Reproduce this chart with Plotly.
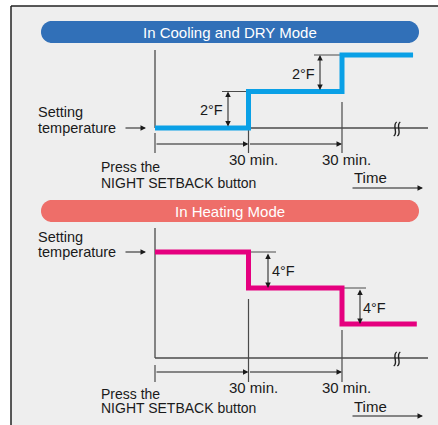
import math
import plotly.graph_objects as go

# ---------------- data ----------------
step_minutes = [0, 30, 60]            # times at which the setpoint changes
cooling_offsets_F = [0, 2, 4]         # cooling / dry: +2°F every 30 min
heating_offsets_F = [0, -4, -8]       # heating: -4°F every 30 min
cooling_end_min = 82.8                # where the drawn line stops
heating_end_min = 84.0
step_labels = ["30 min.", "30 min."]
cooling_step_labels = ["2°F", "2°F"]
heating_step_labels = ["4°F", "4°F"]

# ---------------- layout helpers ----------------
W, H = 438, 425
KX = (342 - 155) / 60.0      # px per minute
KC = (128 - 55) / 4.0        # px per °F (cooling)
KH = (324 - 252) / 8.0       # px per °F (heating)


def tx(px):  # pixel x -> minutes
    return (px - 155) / KX


def cy(py):  # pixel y -> cooling °F
    return (128 - py) / KC


def hy(py):  # pixel y -> heating °F
    return (252 - py) / KH


def PX(x):
    return x / W


def PY(y):
    return 1 - y / H


FONT = "Liberation Sans, Arial, Helvetica, sans-serif"
INK = "#1a1a1a"
AX = "#4a4a4a"
BLUE_LINE = "#0aa0e6"
PINK_LINE = "#e5007f"
PILL_BLUE = "#3170b8"
PILL_RED = "#ee6e69"
PANEL = "#eeeeee"

fig = go.Figure()

fig.add_trace(go.Scatter(
    x=step_minutes + [cooling_end_min],
    y=cooling_offsets_F + [cooling_offsets_F[-1]],
    mode="lines", line=dict(color=BLUE_LINE, width=5, shape="hv"),
    xaxis="x", yaxis="y", hoverinfo="skip", showlegend=False))

fig.add_trace(go.Scatter(
    x=step_minutes + [heating_end_min],
    y=heating_offsets_F + [heating_offsets_F[-1]],
    mode="lines", line=dict(color=PINK_LINE, width=5, shape="hv"),
    xaxis="x", yaxis="y2", hoverinfo="skip", showlegend=False))

shapes = []
annotations = []

# panel background and border
shapes.append(dict(type="rect", xref="paper", yref="paper", x0=PX(11), x1=1.02,
                   y0=-0.02, y1=PY(6), fillcolor=PANEL, line=dict(width=0), layer="below"))
shapes.append(dict(type="line", xref="paper", yref="paper", x0=PX(11), x1=1.02,
                   y0=PY(6), y1=PY(6), line=dict(color="#222", width=1.5), layer="below"))
shapes.append(dict(type="line", xref="paper", yref="paper", x0=PX(11), x1=PX(11),
                   y0=PY(6), y1=-0.02, line=dict(color="#222", width=1.5), layer="below"))


def pill_path(x0, x1, y0, y1, n=24):
    r = (y1 - y0) / 2.0
    yc = (y0 + y1) / 2.0
    pts = []
    for i in range(n + 1):  # right semicircle, top -> bottom
        a = -math.pi / 2 + math.pi * i / n
        pts.append((x1 - r + r * math.cos(a), yc + r * math.sin(a)))
    for i in range(n + 1):  # left semicircle, bottom -> top
        a = math.pi / 2 + math.pi * i / n
        pts.append((x0 + r + r * math.cos(a), yc + r * math.sin(a)))
    return "M " + " L ".join(f"{PX(x):.5f},{PY(y):.5f}" for x, y in pts) + " Z"


for (y0, y1, col, txt) in [(21, 43, PILL_BLUE, "In Cooling and DRY Mode"),
                           (200, 222, PILL_RED, "In Heating Mode")]:
    shapes.append(dict(type="path", xref="paper", yref="paper", path=pill_path(41, 419, y0, y1),
                       fillcolor=col, line=dict(width=0), layer="below"))
    annotations.append(dict(x=PX(230), y=PY((y0 + y1) / 2 + 0.5), xref="paper", yref="paper",
                            text=txt, showarrow=False, xanchor="center", yanchor="middle",
                            font=dict(family=FONT, size=15, color="white")))


def vline(yref, x, ya, yb, w=1.2, col=AX):
    shapes.append(dict(type="line", xref="x", yref=yref, x0=x, x1=x, y0=ya, y1=yb,
                       line=dict(color=col, width=w), layer="below"))


def hline(yref, xa, xb, y, w=1.2, col=AX):
    shapes.append(dict(type="line", xref="x", yref=yref, x0=xa, x1=xb, y0=y, y1=y,
                       line=dict(color=col, width=w), layer="below"))


def arrow(yref, x_tail, y_tail, x_tip, y_tip, double=False):
    a = dict(x=x_tip, y=y_tip, ax=x_tail, ay=y_tail, xref="x", yref=yref,
             axref="x", ayref=yref, text="", showarrow=True, arrowhead=2,
             arrowsize=1.1, arrowwidth=1, arrowcolor=INK, standoff=0, startstandoff=0)
    if double:
        a["arrowside"] = "end+start"
        a["startarrowhead"] = 2
        a["startarrowsize"] = 1.1
    annotations.append(a)


def label(x, y, text, size=14.5, xanchor="center"):
    annotations.append(dict(x=PX(x), y=PY(y), xref="paper", yref="paper", text=text,
                            showarrow=False, xanchor=xanchor, yanchor="middle",
                            font=dict(family=FONT, size=size, color=INK)))


def break_mark(cx, cyp):
    # gap in axis + two S-curves
    shapes.append(dict(type="rect", xref="paper", yref="paper", x0=PX(cx - 2), x1=PX(cx + 2.5),
                       y0=PY(cyp + 2), y1=PY(cyp - 2), fillcolor=PANEL, line=dict(width=0),
                       layer="below"))
    for dx in (-1.8, 1.8):
        x = cx + dx
        p = (f"M {PX(x + 1.5):.5f},{PY(cyp - 7):.5f} "
             f"C {PX(x - 3.5):.5f},{PY(cyp - 4):.5f} {PX(x + 3.5):.5f},{PY(cyp + 4):.5f} "
             f"{PX(x - 1.5):.5f},{PY(cyp + 7):.5f}")
        shapes.append(dict(type="path", xref="paper", yref="paper", path=p,
                           line=dict(color="#222", width=1.4), layer="above"))


# ---------------- cooling panel ----------------
t0, t1, t2 = step_minutes
c0, c1, c2 = cooling_offsets_F
vline("y", t0, cy(50), c0, w=1.3)                  # vertical axis
hline("y", t0, tx(428), c0, w=1.5)                 # time axis
vline("y", t0, cy(133), cy(153))
vline("y", t1, c0, cy(153))
vline("y", t2, cy(102), cy(153))
hline("y", tx(222), t1, c1, w=1)
hline("y", tx(314), t2, c2, w=1)
arrow("y", tx(228), c0, tx(228), c1, double=True)
arrow("y", tx(320), c1, tx(320), c2, double=True)
arrow("y", t0, cy(144), t1, cy(144))
arrow("y", t1, cy(144), t2, cy(144))
arrow("y", tx(124), c0, tx(146), c0)
arrow("y", tx(351), cy(188), tx(423), cy(188))
label(211.5, 110, cooling_step_labels[0])
label(303.5, 73.5, cooling_step_labels[1])
label(253, 159.5, step_labels[0], size=15)
label(346, 159.5, step_labels[1], size=15)
label(36, 112, "Setting", xanchor="left")
label(36, 127.5, "temperature", xanchor="left")
label(99, 167, "Press the", size=14, xanchor="left")
label(99, 183, "NIGHT SETBACK button", size=14, xanchor="left")
label(352, 177.5, "Time", size=15, xanchor="left")
break_mark(397, 129)

# ---------------- heating panel ----------------
h0, h1, h2 = heating_offsets_F
vline("y2", t0, hy(228), hy(358), w=1.3)
hline("y2", t0, tx(428), hy(358), w=1.5)
vline("y2", t0, hy(365), hy(382))
vline("y2", t1, hy(299), hy(382))
vline("y2", t2, hy(330), hy(382))
hline("y2", tx(251), tx(276), h0, w=1)
hline("y2", t2, tx(366), h1, w=1)
arrow("y2", tx(268), h0, tx(268), h1, double=True)
arrow("y2", tx(360), h1, tx(360), h2, double=True)
arrow("y2", t0, hy(372), t1, hy(372))
arrow("y2", t1, hy(372), t2, hy(372))
arrow("y2", tx(124), h0, tx(146), h0)
arrow("y2", tx(351), hy(416), tx(423), hy(416))
label(283, 271, heating_step_labels[0])
label(374, 308, heating_step_labels[1])
label(253, 387.5, step_labels[0], size=15)
label(346, 387.5, step_labels[1], size=15)
label(36, 236.5, "Setting", xanchor="left")
label(36, 251.5, "temperature", xanchor="left")
label(99, 393.5, "Press the", size=14, xanchor="left")
label(99, 408, "NIGHT SETBACK button", size=14, xanchor="left")
label(352, 406, "Time", size=15, xanchor="left")
break_mark(397, 359)

fig.update_layout(
    width=W, height=H, margin=dict(l=0, r=0, t=0, b=0, pad=0),
    paper_bgcolor="white", plot_bgcolor="rgba(0,0,0,0)",
    showlegend=False, shapes=shapes, annotations=annotations,
    xaxis=dict(range=[tx(0), tx(W)], domain=[0, 1], visible=False, fixedrange=True),
    yaxis=dict(range=[cy(H), cy(0)], domain=[0, 1], visible=False, fixedrange=True),
    yaxis2=dict(range=[hy(H), hy(0)], domain=[0, 1], visible=False, fixedrange=True,
                overlaying="y"),
)

fig.write_html("out.html", config={"displayModeBar": False, "staticPlot": True},
               post_script="document.body.style.margin='0';document.body.style.overflow='hidden';")
